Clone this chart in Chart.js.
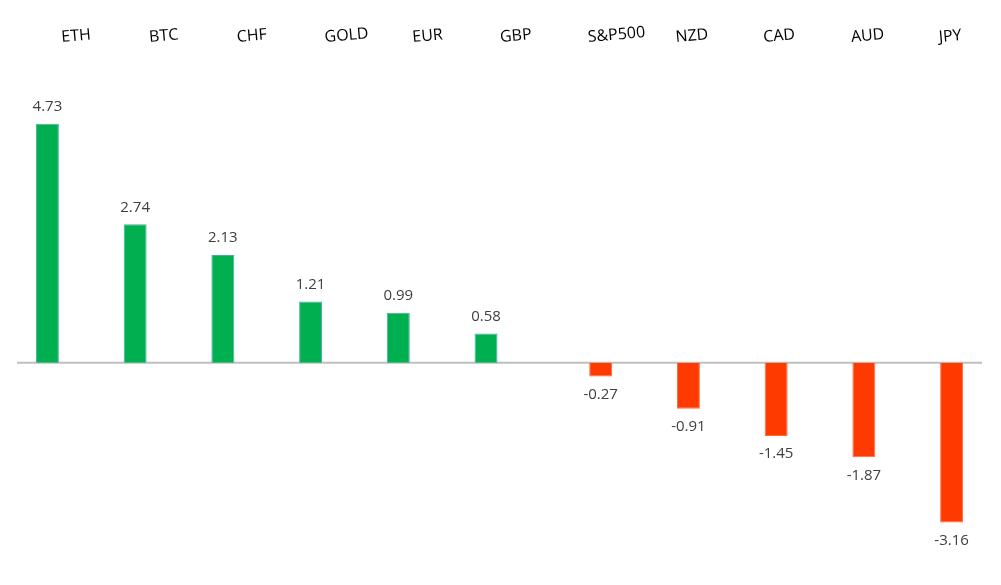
<!DOCTYPE html>
<html>
<head>
<meta charset="utf-8">
<script src="https://cdn.jsdelivr.net/npm/chart.js@4"></script>
<style>
    html, body { margin: 0; padding: 0; background: #ffffff; }
    #wrap { width: 1001px; height: 585px; }
</style>
</head>
<body>
<div id="wrap"><canvas id="chartMoves"></canvas></div>
<script>
const categories = ['ETH', 'BTC', 'CHF', 'GOLD', 'EUR', 'GBP', 'S&P500', 'NZD', 'CAD', 'AUD', 'JPY'];
const changes = [4.73, 2.74, 2.13, 1.21, 0.99, 0.58, -0.27, -0.91, -1.45, -1.87, -3.16];

// split into gainers / losers so each sits in its own slot like the original
const gainers = changes.map(v => v >= 0 ? v : null);
const losers = changes.map(v => v < 0 ? v : null);

const valueLabels = {
    id: 'valueLabels',
    afterDatasetsDraw(chart) {
        const ctx = chart.ctx;
        ctx.save();
        ctx.font = '15px "Open Sans"';
        ctx.fillStyle = '#404040';
        ctx.textAlign = 'center';
        ctx.textBaseline = 'middle';
        chart.data.datasets.forEach((ds, i) => {
            const meta = chart.getDatasetMeta(i);
            meta.data.forEach((bar, j) => {
                const v = ds.data[j];
                if (v === null) return;
                const y = v >= 0 ? bar.y - 17 : bar.y + 18;
                ctx.fillText(v.toFixed(2), bar.x, y);
            });
        });
        ctx.restore();
    }
};

// category names sit up top, slightly tilted, starting at each category centre
const topLabels = {
    id: 'topLabels',
    afterDraw(chart) {
        const ctx = chart.ctx;
        const xs = chart.scales.x;
        ctx.save();
        ctx.font = '16px "Open Sans"';
        ctx.fillStyle = '#000000';
        ctx.textAlign = 'left';
        ctx.textBaseline = 'alphabetic';
        categories.forEach((name, i) => {
            ctx.save();
            ctx.translate(xs.getPixelForValue(i) + 1, 42);
            ctx.rotate(-5 * Math.PI / 180);
            ctx.fillText(name, 0, 0);
            ctx.restore();
        });
        ctx.restore();
    }
};

const zeroLine = {
    id: 'zeroLine',
    beforeDatasetsDraw(chart) {
        const ctx = chart.ctx;
        const y = chart.scales.y.getPixelForValue(0);
        ctx.save();
        ctx.strokeStyle = '#bfbfbf';
        ctx.lineWidth = 2;
        ctx.beginPath();
        ctx.moveTo(chart.chartArea.left, y);
        ctx.lineTo(chart.chartArea.right, y);
        ctx.stroke();
        ctx.restore();
    }
};

const ctx = document.getElementById('chartMoves').getContext('2d');
new Chart(ctx, {
    type: 'bar',
    data: {
        labels: categories,
        datasets: [{
            label: 'Up',
            data: gainers,
            backgroundColor: '#00b050',
            borderColor: 'rgba(38,160,140,0.85)',
            borderWidth: 1,
            categoryPercentage: 0.614,
            barPercentage: 0.852
        }, {
            label: 'Down',
            data: losers,
            backgroundColor: '#ff3a00',
            borderColor: 'rgba(255,90,40,0.9)',
            borderWidth: 1,
            categoryPercentage: 0.614,
            barPercentage: 0.852
        }]
    },
    options: {
        responsive: true,
        maintainAspectRatio: false,
        animation: false,
        layout: { padding: { top: 110, left: 17, right: 19, bottom: 20 } },
        scales: {
            x: { display: false },
            y: { display: false, min: -4, max: 5 }
        },
        plugins: {
            legend: { display: false },
            tooltip: { enabled: false }
        }
    },
    plugins: [zeroLine, valueLabels, topLabels]
});
</script>
</body>
</html>
